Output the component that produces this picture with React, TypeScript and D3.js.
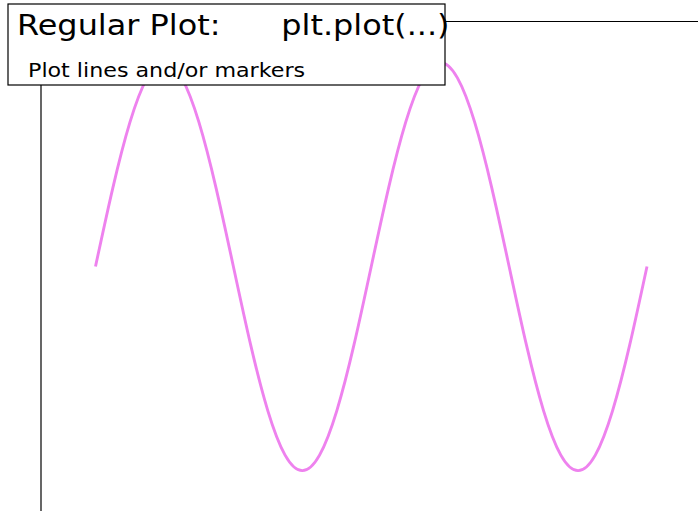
import * as d3 from "d3";

const WIDTH = 698;
const HEIGHT = 511;

// x samples, in units of pi/16 from -pi to pi
const xSteps = d3.range(-16, 17);
// y values (one full sine wave every 16 samples)
const yValues = [
  0, 0.383, 0.707, 0.924, 1, 0.924, 0.707, 0.383,
  0, -0.383, -0.707, -0.924, -1, -0.924, -0.707, -0.383,
  0, 0.383, 0.707, 0.924, 1, 0.924, 0.707, 0.383,
  0, -0.383, -0.707, -0.924, -1, -0.924, -0.707, -0.383,
  0,
];

const titleText = "Regular Plot:      plt.plot(...)";
const subText = "Plot lines and/or markers";

const FONT = "'DejaVu Sans', sans-serif";

export default function App() {
  // axes frame: only top and left spines are in view
  const axLeft = 41;
  const axTop = 21.5;

  const x = d3.scaleLinear().domain([-Math.PI, Math.PI]).range([95.5, 647]);
  const y = d3.scaleLinear().domain([-1.2, 1.2]).range([511.5, 21.5]);

  const points: [number, number][] = xSteps.map((k, i) => [
    (k * Math.PI) / 16,
    yValues[i],
  ]);

  const line = d3
    .line<[number, number]>()
    .x((d) => x(d[0]))
    .y((d) => y(d[1]))
    .curve(d3.curveNatural);

  return (
    <svg
      width={WIDTH}
      height={HEIGHT}
      style={{ position: "absolute", left: 0, top: 0, background: "#fff" }}
    >
      {/* spines */}
      <line x1={axLeft} x2={WIDTH} y1={axTop} y2={axTop} stroke="#000" strokeWidth={1.2} />
      <line x1={axLeft} x2={axLeft} y1={axTop} y2={HEIGHT} stroke="#000" strokeWidth={1.2} />

      <path
        d={line(points) ?? ""}
        fill="none"
        stroke="violet"
        strokeWidth={2.9}
      />

      {/* text box */}
      <rect x={8} y={4} width={437} height={81} fill="#fff" stroke="#000" strokeWidth={1.2} />
      <g transform="translate(17,34.5) scale(1.14,1)">
        <text x={0} y={0} fontFamily={FONT} fontSize={28} fill="#000" style={{ whiteSpace: "pre" }}>
          {titleText}
        </text>
      </g>
      <g transform="translate(28,77) scale(1.11,1)">
        <text x={0} y={0} fontFamily={FONT} fontSize={20} fill="#000">
          {subText}
        </text>
      </g>
    </svg>
  );
}
